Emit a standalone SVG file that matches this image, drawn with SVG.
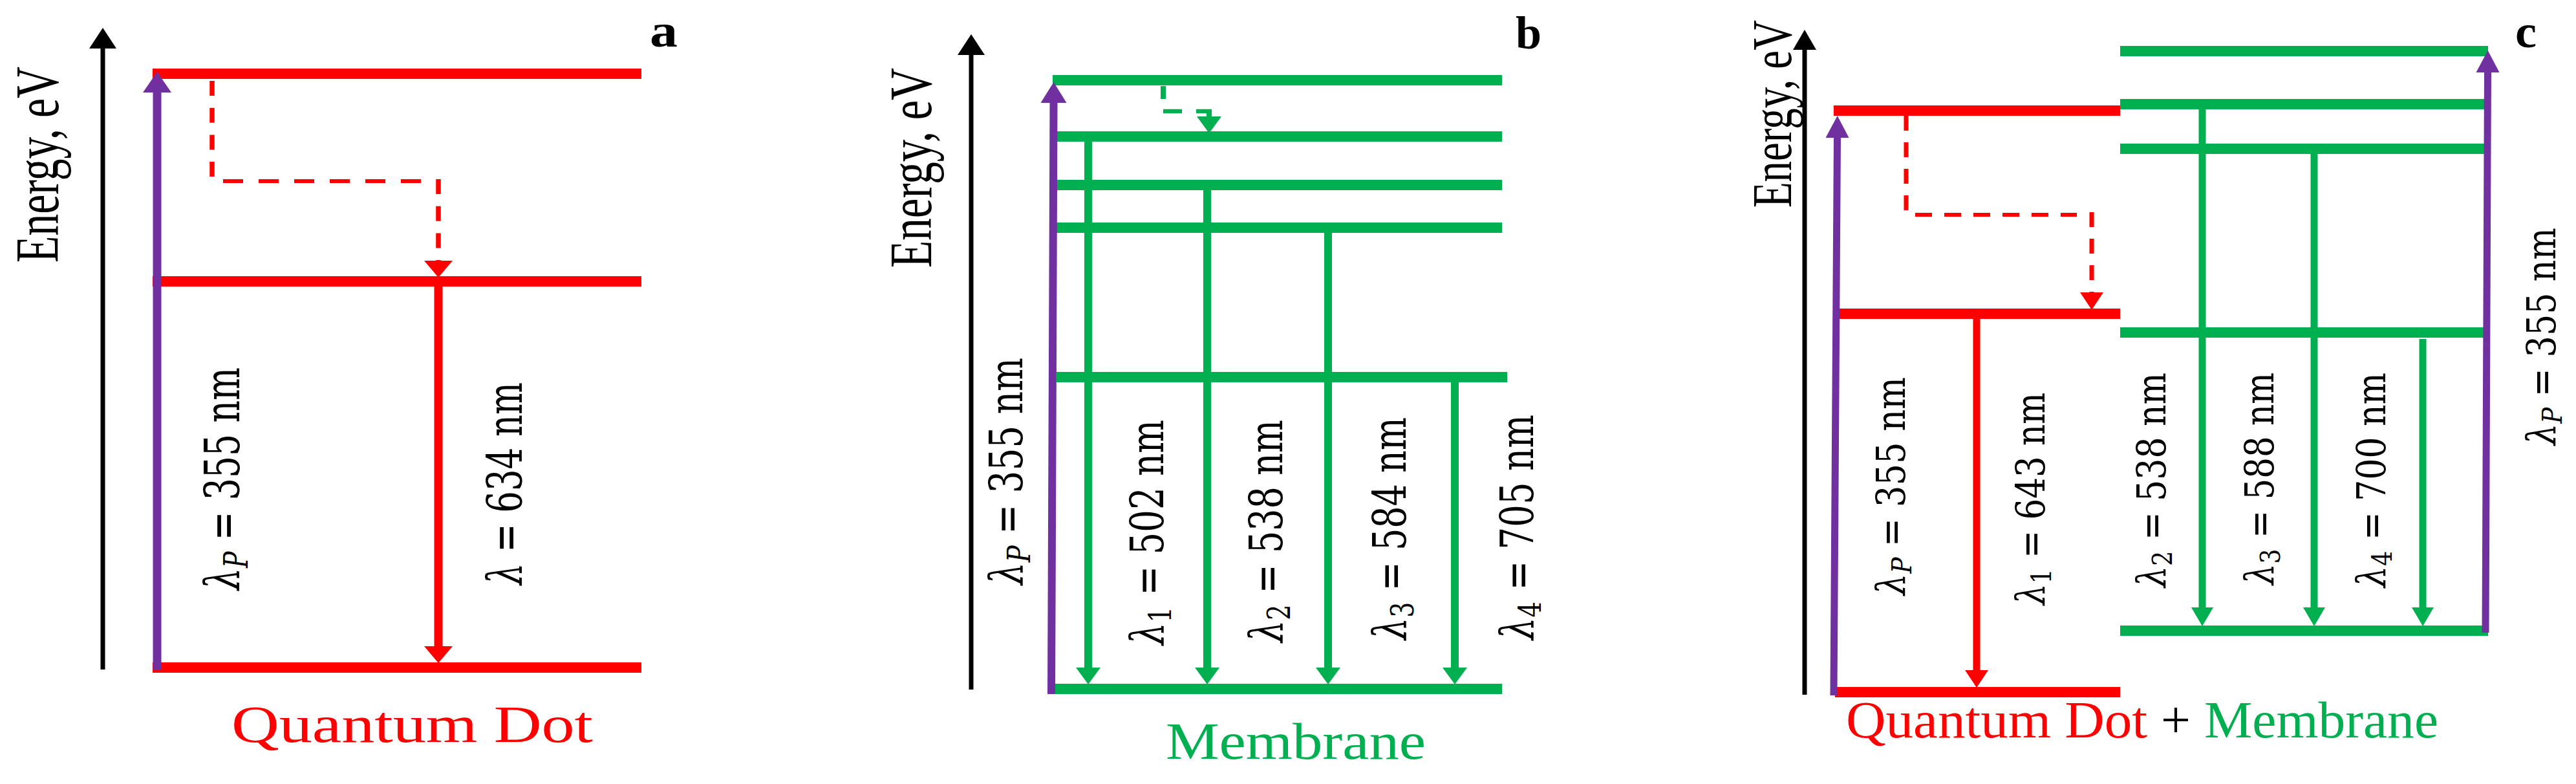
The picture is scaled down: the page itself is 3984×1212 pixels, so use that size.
<svg xmlns="http://www.w3.org/2000/svg" width="3984" height="1212" viewBox="0 0 3984 1212">
<style>
  .bg{fill:#fff}
  .lvr{stroke:#FF0000;stroke-width:16;fill:none}
  .lvg{stroke:#00B050;stroke-width:16;fill:none}
  .ax{stroke:#000;stroke-width:7;fill:none}
  .pu{stroke:#7030A0;fill:none}
  .rd{stroke:#FF0000;fill:none}
  .gr{stroke:#00B050;fill:none}
  text{font-family:"Liberation Serif","Times New Roman",serif;}
  .lbl{font-family:"DejaVu Serif","Liberation Serif",serif;font-size:54px;fill:#000}
  .en{font-size:66px;fill:#000}
  .it{font-style:italic}
  .sub{font-size:38px}
  .tag{font-size:72px;font-weight:bold;fill:#000}
  .cap{font-size:80px}
</style>
<defs>
  <marker id="axh" markerUnits="userSpaceOnUse" orient="auto" overflow="visible" markerWidth="1" markerHeight="1" refX="0" refY="0"><path d="M0,-21 L32,0 L0,21 Z" fill="#000"/></marker>
  <marker id="axhc" markerUnits="userSpaceOnUse" orient="auto" overflow="visible" markerWidth="1" markerHeight="1" refX="0" refY="0"><path d="M0,-18 L31,0 L0,18 Z" fill="#000"/></marker>
  <marker id="ha-r" markerUnits="userSpaceOnUse" orient="auto" overflow="visible" markerWidth="1" markerHeight="1" refX="0" refY="0"><path d="M0,-22 L26,0 L0,22 Z" fill="#FF0000"/></marker>
  <marker id="ha-p" markerUnits="userSpaceOnUse" orient="auto" overflow="visible" markerWidth="1" markerHeight="1" refX="0" refY="0"><path d="M0,-22 L32,0 L0,22 Z" fill="#7030A0"/></marker>
  <marker id="hb-g" markerUnits="userSpaceOnUse" orient="auto" overflow="visible" markerWidth="1" markerHeight="1" refX="0" refY="0"><path d="M0,-19 L26,0 L0,19 Z" fill="#00B050"/></marker>
  <marker id="hb-p" markerUnits="userSpaceOnUse" orient="auto" overflow="visible" markerWidth="1" markerHeight="1" refX="0" refY="0"><path d="M0,-20 L32,0 L0,20 Z" fill="#7030A0"/></marker>
  <marker id="hc-r" markerUnits="userSpaceOnUse" orient="auto" overflow="visible" markerWidth="1" markerHeight="1" refX="0" refY="0"><path d="M0,-18 L27,0 L0,18 Z" fill="#FF0000"/></marker>
  <marker id="hc-g" markerUnits="userSpaceOnUse" orient="auto" overflow="visible" markerWidth="1" markerHeight="1" refX="0" refY="0"><path d="M0,-17 L29,0 L0,17 Z" fill="#00B050"/></marker>
  <marker id="hc-p" markerUnits="userSpaceOnUse" orient="auto" overflow="visible" markerWidth="1" markerHeight="1" refX="0" refY="0"><path d="M0,-18 L34,0 L0,18 Z" fill="#7030A0"/></marker>
</defs>
<rect class="bg" x="0" y="0" width="3984" height="1212"/>

<!-- ================= Panel a ================= -->
<g id="panel-a">
  <g id="a-axis">
    <line class="ax" x1="159" y1="1035" x2="159" y2="75" marker-end="url(#axh)"/>
    <text class="en" transform="translate(90,406) scale(1.45,1) rotate(-90)" textLength="303" lengthAdjust="spacingAndGlyphs">Energy, eV</text>
  </g>
  <g id="a-level-top"><line class="lvr" x1="236" y1="114" x2="992" y2="114"/></g>
  <g id="a-level-mid"><line class="lvr" x1="236" y1="435" x2="992" y2="435"/></g>
  <g id="a-level-bottom"><line class="lvr" x1="236" y1="1032" x2="992" y2="1032"/></g>
  <g id="a-connectors">
    <line class="pu" stroke-width="13" x1="243" y1="1036" x2="243" y2="143" marker-end="url(#ha-p)"/>
    <path class="rd" stroke-width="7.5" stroke-dasharray="23 18.7" d="M328,125 V273"/>
    <path class="rd" stroke-width="6" stroke-dasharray="31 24" d="M345,280 H651"/>
    <path class="rd" stroke-width="7.5" stroke-dasharray="23 18.7" d="M678,277 V403" marker-end="url(#ha-r)"/>
    <line class="rd" stroke-width="13" x1="678" y1="443" x2="678" y2="999" marker-end="url(#ha-r)"/>
  </g>
  <g id="a-labels">
    <text class="lbl" transform="translate(370,912) scale(1.4,1) rotate(-90)" textLength="344" lengthAdjust="spacingAndGlyphs"><tspan class="it">λ</tspan><tspan class="sub it" dy="9">P</tspan><tspan dy="-9"> = 355 nm</tspan></text>
    <text class="lbl" transform="translate(807,904) scale(1.4,1) rotate(-90)" textLength="313" lengthAdjust="spacingAndGlyphs"><tspan class="it">λ</tspan> = 634 nm</text>
    <text class="cap" x="358" y="1147" fill="#FF0000" textLength="559" lengthAdjust="spacingAndGlyphs">Quantum Dot</text>
    <text class="tag" x="1005" y="72" textLength="43" lengthAdjust="spacingAndGlyphs">a</text>
  </g>
</g>

<!-- ================= Panel b ================= -->
<g id="panel-b">
  <g id="b-axis">
    <line class="ax" x1="1502" y1="1066" x2="1502" y2="85" marker-end="url(#axh)"/>
    <text class="en" transform="translate(1440,414) scale(1.4,1) rotate(-90)" textLength="309" lengthAdjust="spacingAndGlyphs">Energy, eV</text>
  </g>
  <g id="b-level-1"><line class="lvg" x1="1628" y1="124" x2="2323" y2="124"/></g>
  <g id="b-level-2"><line class="lvg" x1="1634" y1="211" x2="2323" y2="211"/></g>
  <g id="b-level-3"><line class="lvg" x1="1634" y1="286" x2="2323" y2="286"/></g>
  <g id="b-level-4"><line class="lvg" x1="1634" y1="352" x2="2323" y2="352"/></g>
  <g id="b-level-5"><line class="lvg" x1="1634" y1="583" x2="2331" y2="583"/></g>
  <g id="b-level-ground"><line class="lvg" x1="1628" y1="1065" x2="2323" y2="1065"/></g>
  <g id="b-connectors">
    <line class="pu" stroke-width="12" x1="1626" y1="1073" x2="1629.5" y2="159" marker-end="url(#hb-p)"/>
    <path class="gr" stroke-width="8" stroke-dasharray="20 19" d="M1799,133 V165"/>
    <path class="gr" stroke-width="6.5" stroke-dasharray="29 22" d="M1799,172 H1873"/>
    <path class="gr" stroke-width="8" d="M1870,169 V180" marker-end="url(#hb-g)"/>
    <line class="gr" stroke-width="12" x1="1683" y1="219" x2="1683" y2="1032" marker-end="url(#hb-g)"/>
    <line class="gr" stroke-width="12" x1="1867" y1="294" x2="1867" y2="1032" marker-end="url(#hb-g)"/>
    <line class="gr" stroke-width="12" x1="2054" y1="360" x2="2054" y2="1032" marker-end="url(#hb-g)"/>
    <line class="gr" stroke-width="12" x1="2250" y1="591" x2="2250" y2="1032" marker-end="url(#hb-g)"/>
  </g>
  <g id="b-labels">
    <text class="lbl" transform="translate(1581,904) scale(1.3,1) rotate(-90)" textLength="351" lengthAdjust="spacingAndGlyphs"><tspan class="it">λ</tspan><tspan class="sub it" dy="9">P</tspan><tspan dy="-9"> = 355 nm</tspan></text>
    <text class="lbl" transform="translate(1799,997) scale(1.3,1) rotate(-90)" textLength="348" lengthAdjust="spacingAndGlyphs"><tspan class="it">λ</tspan><tspan class="sub" dy="9">1</tspan><tspan dy="-9"> = 502 nm</tspan></text>
    <text class="lbl" transform="translate(1983,993) scale(1.3,1) rotate(-90)" textLength="344" lengthAdjust="spacingAndGlyphs"><tspan class="it">λ</tspan><tspan class="sub" dy="9">2</tspan><tspan dy="-9"> = 538 nm</tspan></text>
    <text class="lbl" transform="translate(2174,989) scale(1.3,1) rotate(-90)" textLength="344" lengthAdjust="spacingAndGlyphs"><tspan class="it">λ</tspan><tspan class="sub" dy="9">3</tspan><tspan dy="-9"> = 584 nm</tspan></text>
    <text class="lbl" transform="translate(2371,989) scale(1.3,1) rotate(-90)" textLength="348" lengthAdjust="spacingAndGlyphs"><tspan class="it">λ</tspan><tspan class="sub" dy="9">4</tspan><tspan dy="-9"> = 705 nm</tspan></text>
    <text class="cap" x="1803" y="1173" fill="#00B050" textLength="402" lengthAdjust="spacingAndGlyphs">Membrane</text>
    <text class="tag" x="2344" y="75" textLength="40" lengthAdjust="spacingAndGlyphs">b</text>
  </g>
</g>

<!-- ================= Panel c ================= -->
<g id="panel-c">
  <g id="c-axis">
    <line class="ax" stroke-width="6" x1="2791" y1="1074" x2="2791" y2="77" marker-end="url(#axhc)"/>
    <text class="en" transform="translate(2770,321) scale(1.3,1) rotate(-90)" textLength="290" lengthAdjust="spacingAndGlyphs">Energy, eV</text>
  </g>
  <g id="c-qd-top"><line class="lvr" x1="2836" y1="171" x2="3279" y2="171"/></g>
  <g id="c-qd-mid"><line class="lvr" x1="2845" y1="485" x2="3279" y2="485"/></g>
  <g id="c-qd-bottom"><line class="lvr" x1="2838" y1="1070" x2="3279" y2="1070"/></g>
  <g id="c-m-1"><line class="lvg" x1="3279" y1="79" x2="3848" y2="79"/></g>
  <g id="c-m-2"><line class="lvg" x1="3279" y1="161" x2="3843" y2="161"/></g>
  <g id="c-m-3"><line class="lvg" x1="3279" y1="230" x2="3843" y2="230"/></g>
  <g id="c-m-4"><line class="lvg" x1="3279" y1="514" x2="3843" y2="514"/></g>
  <g id="c-m-ground"><line class="lvg" x1="3279" y1="975" x2="3848" y2="975"/></g>
  <g id="c-connectors">
    <line class="pu" stroke-width="11" x1="2836" y1="1075" x2="2841.5" y2="213" marker-end="url(#hc-p)"/>
    <line class="pu" stroke-width="11" x1="3844" y1="978" x2="3847.5" y2="112" marker-end="url(#hc-p)"/>
    <path class="rd" stroke-width="7" stroke-dasharray="23 18" d="M2948,179 V325"/>
    <path class="rd" stroke-width="6" stroke-dasharray="26 19" d="M2962,332 H3212"/>
    <path class="rd" stroke-width="7" stroke-dasharray="23 18" d="M3235,328 V452" marker-end="url(#hc-r)"/>
    <line class="rd" stroke-width="11" x1="3057" y1="493" x2="3057" y2="1036" marker-end="url(#hc-r)"/>
    <line class="gr" stroke-width="11" x1="3406" y1="169" x2="3406" y2="939" marker-end="url(#hc-g)"/>
    <line class="gr" stroke-width="11" x1="3579" y1="238" x2="3579" y2="939" marker-end="url(#hc-g)"/>
    <line class="gr" stroke-width="11" x1="3747" y1="524" x2="3747" y2="939" marker-end="url(#hc-g)"/>
  </g>
  <g id="c-labels">
    <text class="lbl" transform="translate(2946,920) scale(1.15,1) rotate(-90)" textLength="337" lengthAdjust="spacingAndGlyphs"><tspan class="it">λ</tspan><tspan class="sub it" dy="9">P</tspan><tspan dy="-9"> = 355 nm</tspan></text>
    <text class="lbl" transform="translate(3162,935) scale(1.15,1) rotate(-90)" textLength="328" lengthAdjust="spacingAndGlyphs"><tspan class="it">λ</tspan><tspan class="sub" dy="9">1</tspan><tspan dy="-9"> = 643 nm</tspan></text>
    <text class="lbl" transform="translate(3349,908) scale(1.15,1) rotate(-90)" textLength="332" lengthAdjust="spacingAndGlyphs"><tspan class="it">λ</tspan><tspan class="sub" dy="9">2</tspan><tspan dy="-9"> = 538 nm</tspan></text>
    <text class="lbl" transform="translate(3516,904) scale(1.15,1) rotate(-90)" textLength="328" lengthAdjust="spacingAndGlyphs"><tspan class="it">λ</tspan><tspan class="sub" dy="9">3</tspan><tspan dy="-9"> = 588 nm</tspan></text>
    <text class="lbl" transform="translate(3689,908) scale(1.15,1) rotate(-90)" textLength="332" lengthAdjust="spacingAndGlyphs"><tspan class="it">λ</tspan><tspan class="sub" dy="9">4</tspan><tspan dy="-9"> = 700 nm</tspan></text>
    <text class="lbl" transform="translate(3952,688) scale(1.15,1) rotate(-90)" textLength="336" lengthAdjust="spacingAndGlyphs"><tspan class="it">λ</tspan><tspan class="sub it" dy="9">P</tspan><tspan dy="-9"> = 355 nm</tspan></text>
    <text class="cap" x="2855" y="1140" fill="#FF0000" textLength="466" lengthAdjust="spacingAndGlyphs">Quantum Dot</text>
    <text class="cap" x="3342" y="1140" fill="#000" textLength="46" lengthAdjust="spacingAndGlyphs">+</text>
    <text class="cap" x="3409" y="1140" fill="#00B050" textLength="362" lengthAdjust="spacingAndGlyphs">Membrane</text>
    <text class="tag" x="3890" y="73" textLength="33" lengthAdjust="spacingAndGlyphs">c</text>
  </g>
</g>
</svg>
